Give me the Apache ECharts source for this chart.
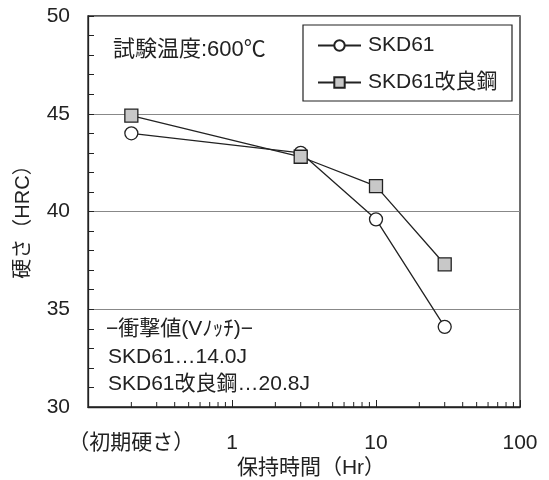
<!DOCTYPE html>
<html>
<head>
<meta charset="utf-8">
<script src="https://cdn.jsdelivr.net/npm/echarts@6/dist/echarts.min.js"></script>
<style>
  html, body { margin: 0; padding: 0; background: #fff; }
  #chart { width: 549px; height: 480px; }
</style>
</head>
<body>
<div id="chart"></div>
<script>
// Holding time (Hr); the first point is the initial hardness
const holdTimes = [0.2, 3, 10, 30];
const skd61 = [44.0, 43.0, 39.6, 34.1];
const skd61Improved = [44.9, 42.8, 41.3, 37.3];
const seriesNames = ['SKD61', 'SKD61改良鋼'];

// Axis labels
const xDecadeLabels = { 1: '1', 10: '10', 100: '100' };
const initialLabel = '（初期硬さ）';
const initialValue = 0.2;
const xMinorTicks = [0.2, 0.3, 0.4, 0.5, 0.6, 0.7, 0.8, 0.9,
                     2, 3, 4, 5, 6, 7, 8, 9,
                     20, 30, 40, 50, 60, 70, 80, 90];
const yMin = 30, yMax = 50, yStep = 5;

const FONT = '"Liberation Sans", "Noto Sans CJK JP", sans-serif';
const INK = '#222';
const F21 = '21px ' + FONT;

const chart = echarts.init(document.getElementById('chart'), null, { renderer: 'canvas' });

const lineStyle = { color: INK, width: 1.3 };

const option = {
  animation: false,
  backgroundColor: '#fff',
  textStyle: { fontFamily: FONT, color: INK },
  grid: {
    left: 88, top: 16, right: 29, bottom: 73,
    show: true, borderColor: INK, borderWidth: 1.3, backgroundColor: 'transparent'
  },
  xAxis: {
    type: 'log', logBase: 10, min: 0.1, max: 100,
    axisLine: { lineStyle: { color: INK, width: 1.3 } },
    axisTick: { inside: true, length: 7, lineStyle: { color: INK, width: 1 } },
    splitLine: { show: false },
    axisLabel: {
      fontSize: 21, color: INK, fontFamily: FONT, margin: 26,
      formatter: v => xDecadeLabels[Math.round(v * 1000) / 1000] || ''
    }
  },
  yAxis: {
    type: 'value', min: yMin, max: yMax, interval: yStep,
    axisLine: { show: true, lineStyle: { color: INK, width: 1.3 } },
    axisTick: { show: true, inside: true, length: 6, lineStyle: { color: INK, width: 1 } },
    minorTick: { show: true, splitNumber: 5, length: 6, lineStyle: { color: INK, width: 1 } },
    splitLine: { show: true, lineStyle: { color: '#888', width: 1.2 } },
    axisLabel: { fontSize: 21, color: INK, fontFamily: FONT, margin: 18 }
  },
  legend: {
    data: seriesNames,
    orient: 'vertical',
    left: 317, top: 35,
    padding: 0,
    itemGap: 16,
    itemWidth: 43, itemHeight: 13,
    textStyle: { fontSize: 21, color: INK, fontFamily: FONT, padding: [0, 0, 0, 2] },
    selectedMode: false
  },
  graphic: [
    {
      type: 'rect', z: 0,
      shape: { x: 303, y: 25, width: 209, height: 76 },
      style: { fill: '#fff', stroke: INK, lineWidth: 1.2 }
    },
    {
      type: 'text', x: 113, y: 50, z: 10,
      style: { text: '試験温度:600℃', font: '22px ' + FONT, fill: INK, textVerticalAlign: 'middle' }
    },
    {
      type: 'text', x: 106, y: 329, z: 10,
      style: { text: '−衝撃値(Vﾉｯﾁ)−', font: F21, fill: INK, textVerticalAlign: 'middle' }
    },
    {
      type: 'text', x: 108, y: 357, z: 10,
      style: { text: 'SKD61…14.0J', font: F21, fill: INK, textVerticalAlign: 'middle' }
    },
    {
      type: 'text', x: 108, y: 384, z: 10,
      style: { text: 'SKD61改良鋼…20.8J', font: F21, fill: INK, textVerticalAlign: 'middle' }
    },
    {
      type: 'text', x: 311, y: 468, z: 10,
      style: { text: '保持時間（Hr）', font: F21, fill: INK, textAlign: 'center', textVerticalAlign: 'middle' }
    },
    {
      type: 'text', x: 23, y: 217, rotation: Math.PI / 2, z: 10,
      style: { text: '硬さ（HRC）', font: '20px ' + FONT, fill: INK, textAlign: 'center', textVerticalAlign: 'middle' }
    }
  ],
  series: [
    {
      name: seriesNames[0], type: 'line',
      data: holdTimes.map((t, i) => [t, skd61[i]]),
      symbol: 'circle', symbolSize: 13,
      lineStyle: lineStyle,
      itemStyle: { color: '#fff', borderColor: INK, borderWidth: 1.3 },
      z: 3
    },
    {
      name: seriesNames[1], type: 'line',
      data: holdTimes.map((t, i) => [t, skd61Improved[i]]),
      symbol: 'rect', symbolSize: 13,
      lineStyle: lineStyle,
      itemStyle: { color: '#c8c8c8', borderColor: INK, borderWidth: 1.3 },
      z: 4
    },
    {
      // minor ticks of the logarithmic time axis (2..9 per decade)
      type: 'custom', silent: true, clip: false, z: 5,
      data: xMinorTicks.map(v => [v, yMin]),
      encode: { x: 0, y: 1 },
      renderItem: (params, api) => {
        const p = api.coord([api.value(0), api.value(1)]);
        return {
          type: 'line',
          shape: { x1: p[0], y1: p[1], x2: p[0], y2: p[1] - 5 },
          style: { stroke: INK, lineWidth: 1 }
        };
      }
    }
  ]
};

chart.setOption(option);

// Label for the initial-hardness position on the time axis
const px = chart.convertToPixel({ xAxisIndex: 0 }, initialValue);
const py = chart.convertToPixel({ yAxisIndex: 0 }, yMin);
chart.setOption({
  graphic: option.graphic.concat([{
    type: 'text', x: px, y: py + 36, z: 10,
    style: { text: initialLabel, font: F21, fill: INK, textAlign: 'center', textVerticalAlign: 'middle' }
  }])
});
</script>
</body>
</html>
